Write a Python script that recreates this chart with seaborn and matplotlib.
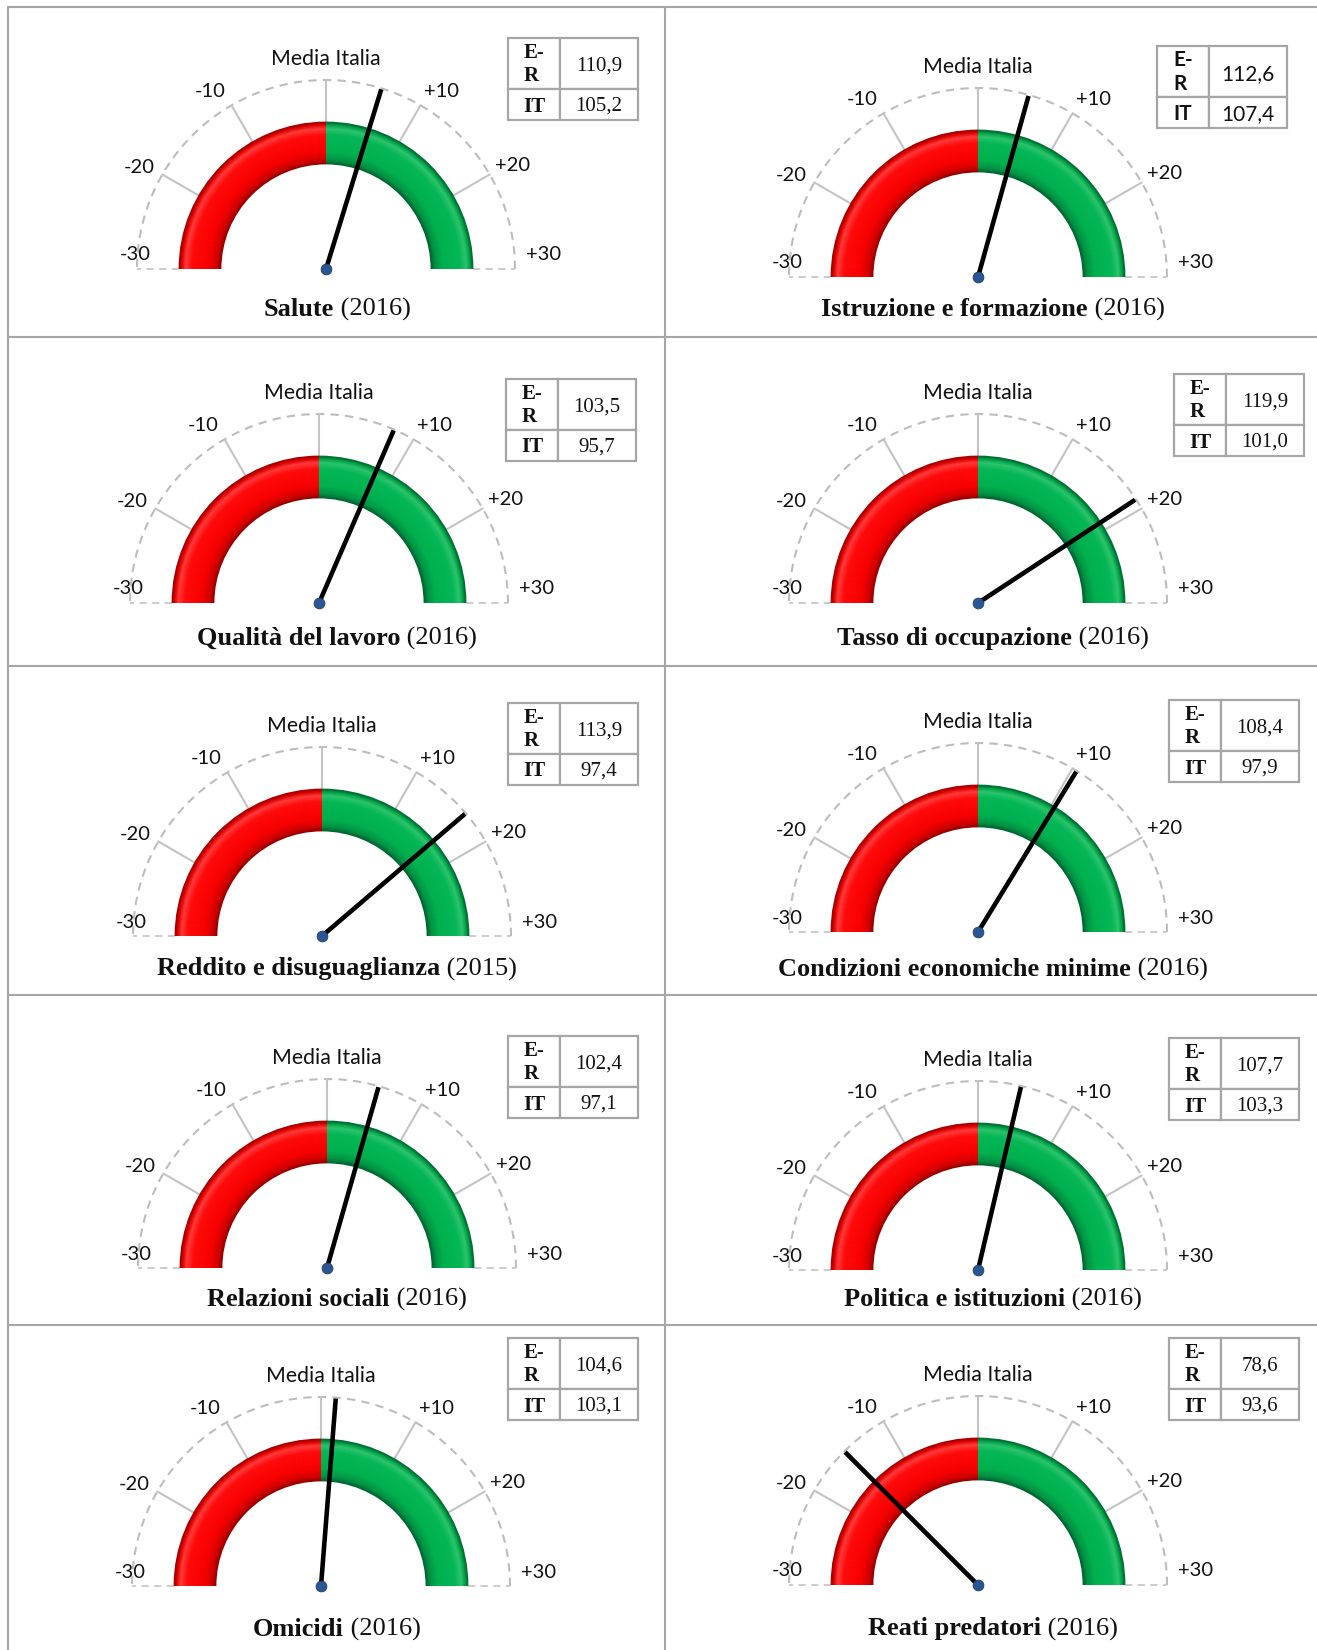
import numpy as np
import matplotlib.pyplot as plt
import seaborn as sns
from matplotlib.patches import Wedge, Rectangle
from matplotlib.colors import to_rgb

# dati: indici Emilia-Romagna (E-R) e Italia (IT)
titles = [
    "Salute", "Istruzione e formazione",
    "Qualità del lavoro", "Tasso di occupazione",
    "Reddito e disuguaglianza", "Condizioni economiche minime",
    "Relazioni sociali", "Politica e istituzioni",
    "Omicidi", "Reati predatori",
]
years = ["2016", "2016", "2016", "2016", "2015", "2016", "2016", "2016", "2016", "2016"]
er_values = [110.9, 112.6, 103.5, 119.9, 113.9, 108.4, 102.4, 107.7, 104.6, 78.6]
it_values = [105.2, 107.4, 95.7, 101.0, 97.4, 97.9, 97.1, 103.3, 103.1, 93.6]
table_font = ["serif", "sans", "serif", "serif", "serif", "serif", "serif", "serif", "serif", "serif"]
scale_ticks = [-20, -10, 0, 10, 20]
scale_labels = ["-20", "-10", "", "+10", "+20"]

# layout (pixel, origine in alto a sinistra)
W, H = 1317, 1650
centers = [(326, 269), (978, 277), (319, 603), (978, 603), (322, 936),
           (978, 932), (327, 1268), (978, 1270), (321, 1586), (978, 1585)]
tables = [(508, 38), (1157, 46), (506, 379), (1174, 374), (508, 703),
          (1169, 700), (508, 1036), (1169, 1038), (508, 1338), (1169, 1338)]
label_angles = [150.5, 122.5, 90, 57.5, 30]
title_x = [337, 993]
title_y = [309, 638, 969, 1299, 1629]
row_lines = [7.4, 336.6, 665.8, 995, 1325.3]
col_lines = [8, 665]

R_IN, R_OUT, R_DASH, R_LAB, R_NEEDLE = 105, 147, 189, 215, 188
SANS = ["Lato", "DejaVu Sans"]
SERIF = ["Liberation Serif", "DejaVu Serif"]
TXT = "#111111"

sns.set_theme(style="white")
plt.rcParams["font.family"] = SANS

fig = plt.figure(figsize=(W / 100, H / 100), dpi=100)
ax = fig.add_axes([0, 0, 1, 1])
ax.set_xlim(0, W)
ax.set_ylim(0, H)
ax.axis("off")


def Y(y):
    return H - y


def angle_of(v):
    # -30 .. +30 -> 180 .. 0 gradi
    return np.deg2rad(90 - 3 * v)


def lerp(c1, c2, t):
    a, b = np.array(to_rgb(c1)), np.array(to_rgb(c2))
    return tuple(a + (b - a) * t)


def ring(cx, cy, t1, t2, stops):
    # fascia colorata con leggera sfumatura radiale (effetto rilievo)
    rs = np.linspace(R_IN, R_OUT, 43)
    pos = [s[0] for s in stops]
    for r0, r1 in zip(rs[:-1], rs[1:]):
        f = ((r0 + r1) / 2 - R_IN) / (R_OUT - R_IN)
        i = min(np.searchsorted(pos, f) - 1, len(pos) - 2)
        i = max(i, 0)
        t = (f - pos[i]) / (pos[i + 1] - pos[i])
        col = lerp(stops[i][1], stops[i + 1][1], np.clip(t, 0, 1))
        ax.add_patch(Wedge((cx, cy), r1 + 0.4, t1, t2, width=r1 - r0 + 0.8,
                           facecolor=col, edgecolor="none", zorder=2))


red_stops = [(0.0, "#8e0000"), (0.12, "#d20000"), (0.3, "#f60000"),
             (0.7, "#ff0a0a"), (0.85, "#ff3a3a"), (0.94, "#e00000"), (1.0, "#9a0000")]
green_stops = [(0.0, "#005e2e"), (0.12, "#009344"), (0.3, "#00b04f"),
               (0.7, "#04b655"), (0.85, "#2cc46c"), (0.94, "#00a048"), (1.0, "#00642f")]

# griglia delle celle
for y in row_lines:
    ax.plot([col_lines[0], W], [Y(y), Y(y)], color="#a6a6a6", lw=1.5, zorder=1)
for x in col_lines:
    ax.plot([x, x], [Y(row_lines[0]), 0], color="#a6a6a6", lw=1.5, zorder=1)

renderer = fig.canvas.get_renderer()

for k in range(len(titles)):
    cx, cy = centers[k][0], Y(centers[k][1])

    # arco tratteggiato esterno
    th = np.linspace(0, np.pi, 200)
    ax.plot(cx + R_DASH * np.cos(th), cy + R_DASH * np.sin(th), color="#bdbdbd",
            lw=1.5, ls=(0, (4, 3)), zorder=1)
    for sgn in (-1, 1):
        ax.plot([cx + sgn * R_OUT, cx + sgn * R_DASH], [cy, cy], color="#c8c8c8",
                lw=1.3, ls=(0, (4, 3)), zorder=1)

    # tacche ed etichette
    for v, lab, la in zip(scale_ticks, scale_labels, label_angles):
        a = angle_of(v)
        ax.plot([cx + R_OUT * np.cos(a), cx + R_DASH * np.cos(a)],
                [cy + R_OUT * np.sin(a), cy + R_DASH * np.sin(a)],
                color="#c4c4c4", lw=1.5, zorder=1)
        if lab:
            b = np.deg2rad(la)
            ax.text(cx + R_LAB * np.cos(b), cy + R_LAB * np.sin(b) - 4, lab,
                    ha="center", va="center", fontsize=14.5, color=TXT)
    ax.text(cx - 191, cy + 14, "-30", ha="center", va="center", fontsize=14.5, color=TXT)
    ax.text(cx + 218, cy + 14, "+30", ha="center", va="center", fontsize=14.5, color=TXT)
    ax.text(cx, cy + 210, "Media Italia", ha="center", va="center", fontsize=15.3,
            color=TXT)

    # semicorona rossa / verde
    ring(cx, cy, 90, 180, red_stops)
    ring(cx, cy, 0, 90, green_stops)

    # lancetta: differenza E-R meno IT
    a = angle_of(er_values[k] - it_values[k])
    ax.plot([cx, cx + R_NEEDLE * np.cos(a)], [cy, cy + R_NEEDLE * np.sin(a)],
            color="black", lw=3.3, solid_capstyle="butt", zorder=5)
    sns.scatterplot(x=[cx], y=[cy], ax=ax, s=60, color="#2c5593",
                    edgecolor="#1c3c6c", linewidth=0.6, zorder=6, legend=False)

    # tabellina valori
    tx, ty = tables[k][0], Y(tables[k][1])
    w1, w2, h1, h2 = 52, 78, 51, 31
    fam = SERIF if table_font[k] == "serif" else SANS
    for (x0, y0, w, h) in [(tx, ty - h1, w1, h1), (tx + w1, ty - h1, w2, h1),
                           (tx, ty - h1 - h2, w1, h2), (tx + w1, ty - h1 - h2, w2, h2)]:
        ax.add_patch(Rectangle((x0, y0), w, h, facecolor="white", edgecolor="#a6a6a6",
                               lw=1.6, zorder=3))
    ax.text(tx + w1 / 2, ty - h1 / 2 - 1, "E-\nR", ha="center", va="center", family=fam,
            fontweight="bold", fontsize=15, linespacing=1.25, multialignment="left",
            color=TXT, zorder=4)
    ax.text(tx + w1 / 2, ty - h1 - h2 / 2 - 2, "IT", ha="center", va="center", family=fam,
            fontweight="bold", fontsize=15, color=TXT, zorder=4)
    ax.text(tx + w1 + w2 / 2, ty - h1 / 2 - 3, f"{er_values[k]:.1f}".replace(".", ","),
            ha="center", va="center", family=fam, fontsize=15, color=TXT, zorder=4)
    ax.text(tx + w1 + w2 / 2, ty - h1 - h2 / 2 - 2, f"{it_values[k]:.1f}".replace(".", ","),
            ha="center", va="center", family=fam, fontsize=15, color=TXT, zorder=4)

    # titolo: nome in grassetto + anno
    yt = Y(title_y[k // 2])
    t1 = ax.text(0, yt, titles[k], family=SERIF, fontweight="bold", fontsize=19,
                 ha="left", va="center", color=TXT)
    t2 = ax.text(0, yt, f" ({years[k]})", family=SERIF, fontsize=19,
                 ha="left", va="center", color=TXT)
    wa = t1.get_window_extent(renderer).width
    wb = t2.get_window_extent(renderer).width
    x0 = title_x[k % 2] - (wa + wb) / 2
    t1.set_x(x0)
    t2.set_x(x0 + wa)

fig.savefig("out.png", dpi=100, facecolor="white")
